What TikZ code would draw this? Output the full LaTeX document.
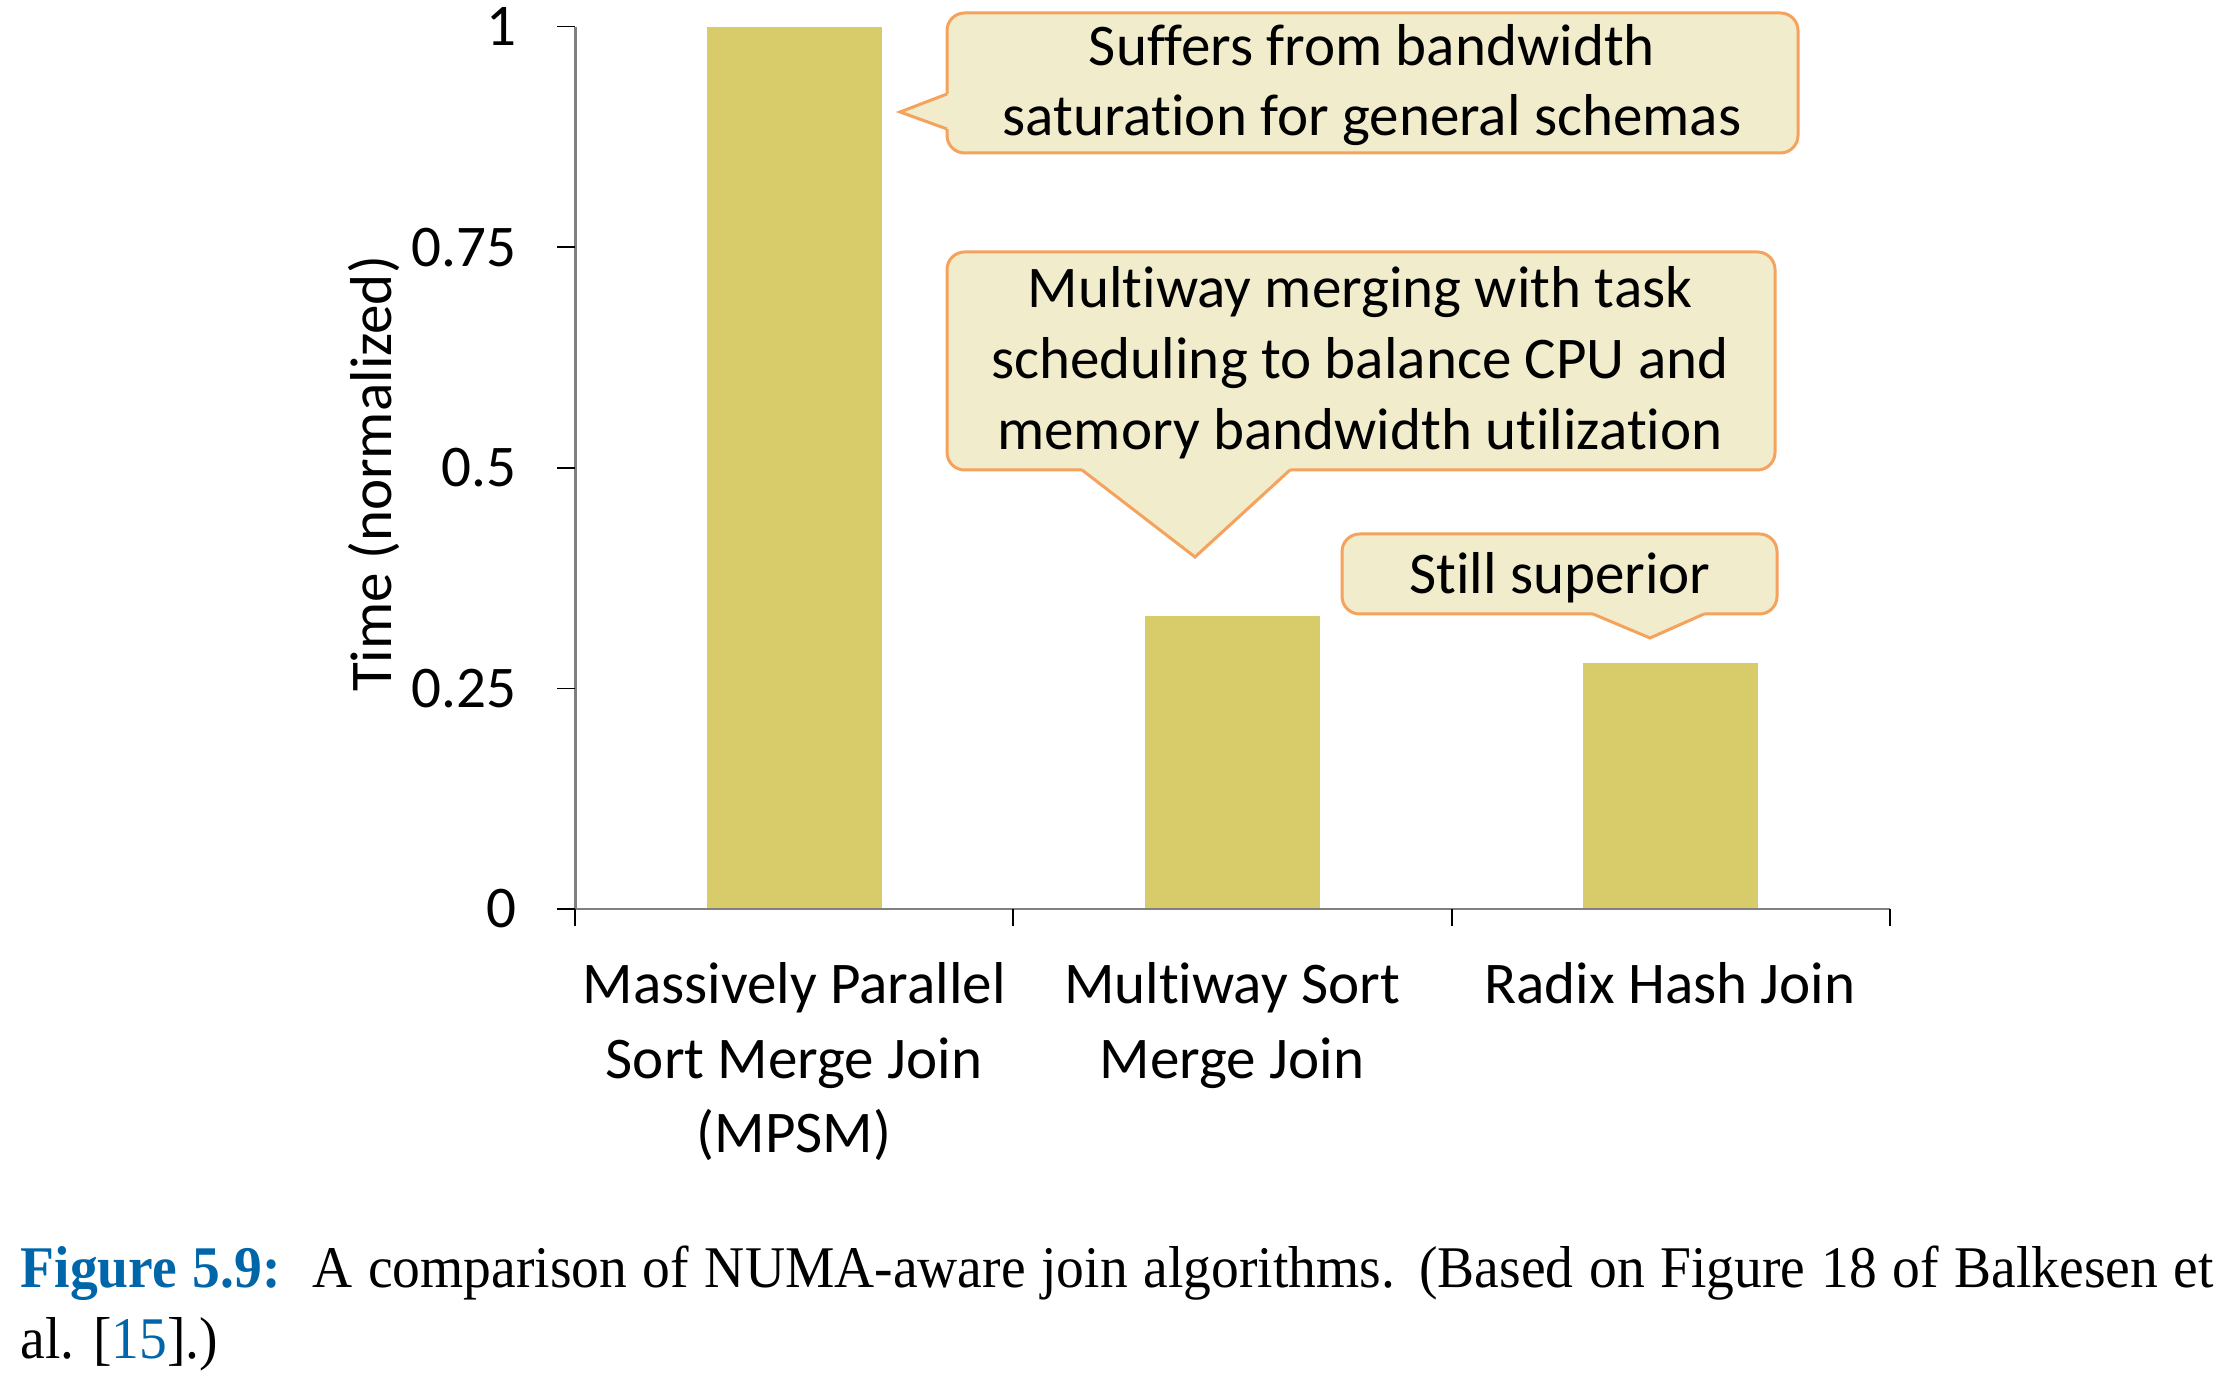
\documentclass[tikz,border=0pt]{standalone}
\usepackage{fontspec}
\setmainfont{Liberation Serif}
\newfontfamily\capserif[FakeStretch=0.94]{Liberation Serif}
\newfontfamily\calib[Ligatures=NoCommon]{Carlito}
\definecolor{barc}{HTML}{D8CC6A}
\definecolor{callfill}{HTML}{F1ECCB}
\definecolor{callline}{HTML}{F5A25D}
\definecolor{axisgray}{HTML}{808080}
\definecolor{capblue}{HTML}{0066AA}
\begin{document}
\begin{tikzpicture}[x=0.01cm,y=-0.01cm,
  chart/.style={font=\calib\fontsize{16.8}{20}\selectfont, inner sep=0, text=black},
  bar/.style={fill=barc},
  callbody/.style={fill=callfill, draw=callline, line width=0.85pt, rounded corners=5pt},
  callpt/.style={fill=callfill},
  callptline/.style={draw=callline, line width=0.85pt, line join=miter},
  axisline/.style={draw=axisgray, line width=0.85pt},
  tickline/.style={draw=black, line width=0.45pt},
  capfont/.style={font=\capserif\fontsize{16.8}{20}\selectfont, inner sep=0}]
\useasboundingbox (0,0) rectangle (2228,1377);

% bars
\fill[bar] (707,909) rectangle (882,26.6);
\fill[bar] (1145,909) rectangle (1320,616);
\fill[bar] (1583,909) rectangle (1758,663);

% axes
\draw[axisline] (575,26.6) -- (575,909);
\draw[axisline] (575,909) -- (1890,909);
\foreach \yy in {26.6,247.2,467.8,688.4,909}{
  \draw[tickline] (557,\yy) -- (575,\yy);
}
\foreach \xx in {575,1013,1452,1890}{
  \draw[tickline] (\xx,909) -- (\xx,926);
}

% tick labels
\node[chart, anchor=east] (t1) at (517,26.6) {1};
\node[chart, anchor=east] (t075) at (517,247.2) {0.75};
\node[chart, anchor=east] (t05) at (517,467.8) {0.5};
\node[chart, anchor=east] (t025) at (517,688.4) {0.25};
\node[chart, anchor=east] (t0) at (517,909) {0};

% axis title
\node[chart, rotate=90] (ylab) at (374,474) {Time (normalized)};

% category labels
\node[chart, anchor=base] (c1a) at (794,1004) {Massively Parallel};
\node[chart, anchor=base] (c1b) at (794,1078) {Sort Merge Join};
\node[chart, anchor=base] (c1c) at (794,1152) {(MPSM)};
\node[chart, anchor=base] (c2a) at (1232,1004) {Multiway Sort};
\node[chart, anchor=base] (c2b) at (1232,1078) {Merge Join};
\node[chart, anchor=base] (c3a) at (1670,1004) {Radix Hash Join};

% callout 1
\draw[callbody] (947,13) rectangle (1798,153);
\fill[callpt] (953,94) -- (947,94) -- (900,112) -- (947,129) -- (953,129) -- cycle;
\draw[callptline] (947,94) -- (900,112) -- (947,129);
\node[chart, anchor=base] (k1a) at (1372,66) {Suffers from bandwidth};
\node[chart, anchor=base] (k1b) at (1372,136) {saturation for general schemas};

% callout 2
\draw[callbody] (947,252) rectangle (1775,470);
\fill[callpt] (1082,464) -- (1082,470) -- (1195,557) -- (1290,470) -- (1290,464) -- cycle;
\draw[callptline] (1082,470) -- (1195,557) -- (1290,470);
\node[chart, anchor=base] (k2a) at (1360,308) {Multiway merging with task};
\node[chart, anchor=base] (k2b) at (1360,379) {scheduling to balance CPU and};
\node[chart, anchor=base] (k2c) at (1360,450) {memory bandwidth utilization};

% callout 3
\draw[callbody] (1342,534) rectangle (1777,614);
\fill[callpt] (1593,608) -- (1593,614) -- (1650,638) -- (1704,614) -- (1704,608) -- cycle;
\draw[callptline] (1593,614) -- (1650,638) -- (1704,614);
\node[chart, anchor=base] (k3a) at (1560,594) {Still superior};

% caption
\node[capfont, anchor=base west] (cap1) at (20,1287) {\makebox[21.92cm][s]{\textcolor{capblue}{\textbf{Figure 5.9:}}\ \ A comparison of NUMA-aware join algorithms. (Based on Figure 18 of Balkesen et}};
\node[capfont, anchor=base west] (cap2) at (20,1358) {al. [\textcolor{capblue}{15}].)};
\end{tikzpicture}
\end{document}
